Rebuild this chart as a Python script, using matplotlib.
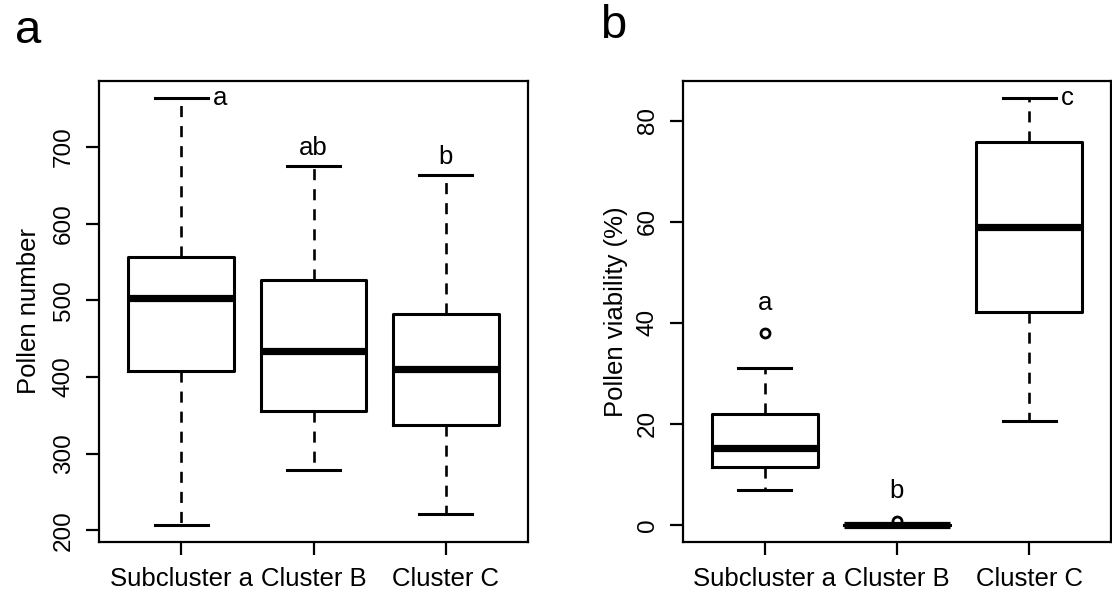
import numpy as np
import matplotlib
matplotlib.use("Agg")
import matplotlib.pyplot as plt

plt.rcParams['font.family'] = ['Liberation Sans', 'DejaVu Sans']

groups = ['Subcluster a', 'Cluster B', 'Cluster C']

# pollen number per group: lower whisker, Q1, median, Q3, upper whisker
number_lo = [207, 279, 221]
number_q1 = [408, 356, 338]
number_med = [503, 434, 411]
number_q3 = [557, 526, 482]
number_hi = [764, 675, 663]
number_out = [[], [], []]
number_letters = ['a', 'ab', 'b']

# pollen viability (%)
viab_lo = [6.9, 0.0, 20.5]
viab_q1 = [11.5, 0.0, 42.2]
viab_med = [15.2, 0.0, 58.9]
viab_q3 = [21.9, 0.0, 75.9]
viab_hi = [31.0, 0.0, 84.5]
viab_out = [[37.9], [0.8], []]
viab_letters = ['a', 'b', 'c']

W, H = 1112, 605
fig = plt.figure(figsize=(W / 100, H / 100), dpi=100)
ax1 = fig.add_axes([99 / W, (H - 542) / H, 429 / W, 461 / H])
ax2 = fig.add_axes([683 / W, (H - 542) / H, 428 / W, 461 / H])

PX = 0.72  # points per pixel at 100 dpi


def draw_box(ax, lo, q1, med, q3, hi, out, ylabel, yticks):
    stats = []
    for i in range(len(groups)):
        stats.append(dict(whislo=lo[i], q1=q1[i], med=med[i], q3=q3[i],
                          whishi=hi[i], fliers=out[i]))
    pos = np.arange(1, len(groups) + 1)
    ax.bxp(stats, positions=pos, widths=0.8, capwidths=0.4,
           boxprops=dict(color='black', linewidth=2.2),
           medianprops=dict(color='black', linewidth=5.2, solid_capstyle='butt'),
           whiskerprops=dict(color='black', linewidth=1.9, linestyle=(0, (4.2, 3.4))),
           capprops=dict(color='black', linewidth=2.2),
           flierprops=dict(marker='o', markerfacecolor='none', markeredgecolor='black',
                           markersize=6.5, markeredgewidth=2.0))
    vals = lo + hi + [v for o in out for v in o]
    vmin, vmax = min(vals), max(vals)
    ext = 0.04 * (vmax - vmin)
    ax.set_ylim(vmin - ext, vmax + ext)
    ax.set_xlim(0.38, 3.62)
    ax.set_xticks(pos)
    ax.set_xticklabels(groups)
    ax.set_yticks(yticks)
    for s in ax.spines.values():
        s.set_linewidth(1.6)
    ax.tick_params(axis='both', direction='out', length=13 * PX, width=1.6,
                   labelsize=18.5, color='black')
    ax.tick_params(axis='x', pad=9)
    ax.tick_params(axis='y', labelrotation=90, pad=8, labelsize=17.5)
    for lab in ax.get_yticklabels():
        lab.set_verticalalignment('center')
    ax.set_ylabel(ylabel, fontsize=18.5)
    return pos


p1 = draw_box(ax1, number_lo, number_q1, number_med, number_q3, number_hi,
              number_out, 'Pollen number', [200, 300, 400, 500, 600, 700])
p2 = draw_box(ax2, viab_lo, viab_q1, viab_med, viab_q3, viab_hi,
              viab_out, 'Pollen viability (%)', [0, 20, 40, 60, 80])
ax1.yaxis.set_label_coords(-0.136, 0.5)
ax2.yaxis.set_label_coords(-0.128, 0.5)

# significance letters: beside the cap or above the top mark
lfs = 18.5
ax1.annotate(number_letters[0], (p1[0] + 0.2, number_hi[0]), xytext=(4, 0),
             textcoords='offset points', ha='left', va='center', fontsize=lfs)
ax1.annotate(number_letters[1], (p1[1], number_hi[1]), xytext=(0, 11 * PX),
             textcoords='offset points', ha='center', va='baseline', fontsize=lfs)
ax1.annotate(number_letters[2], (p1[2], number_hi[2]), xytext=(0, 11 * PX),
             textcoords='offset points', ha='center', va='baseline', fontsize=lfs)
ax2.annotate(viab_letters[0], (p2[0], viab_out[0][0]), xytext=(0, 23 * PX),
             textcoords='offset points', ha='center', va='baseline', fontsize=lfs)
ax2.annotate(viab_letters[1], (p2[1], viab_out[1][0]), xytext=(0, 23 * PX),
             textcoords='offset points', ha='center', va='baseline', fontsize=lfs)
ax2.annotate(viab_letters[2], (p2[2] + 0.2, viab_hi[2]), xytext=(4, 0),
             textcoords='offset points', ha='left', va='center', fontsize=lfs)

# panel letters
fig.text(15 / W, 1 - 43 / H, 'a', fontsize=34, va='baseline', ha='left')
fig.text(600 / W, 1 - 38 / H, 'b', fontsize=34, va='baseline', ha='left')

fig.savefig('out.png', dpi=100)
